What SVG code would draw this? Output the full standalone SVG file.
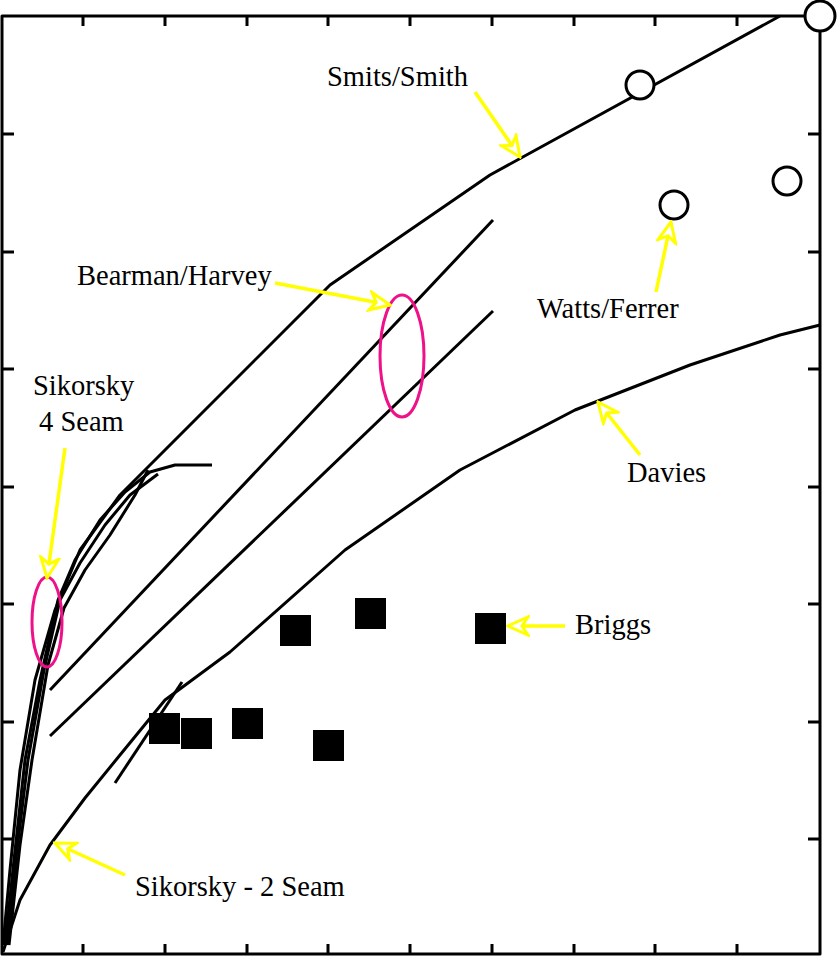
<svg xmlns="http://www.w3.org/2000/svg" width="837" height="956" viewBox="0 0 837 956">
<style>
.k{fill:none;stroke:#000;stroke-width:3;stroke-linejoin:round}
.t{font-family:"Liberation Serif",serif;font-size:28.5px;fill:#000}
.y{stroke:#ffff00;stroke-width:3.5;fill:none}
.e{fill:none;stroke:#ee1188;stroke-width:3}
.s{fill:#000}
.c{fill:#fff;stroke:#000;stroke-width:3}
</style>
<defs>
<marker id="ah" viewBox="-22 -11 24 22" refX="0" refY="0" markerWidth="24" markerHeight="22" markerUnits="userSpaceOnUse" orient="auto">
<path d="M0,0 L-20,-9 L-14,0 L-20,9 Z" fill="#fff" stroke="#ffff00" stroke-width="3"/>
</marker>
</defs>
<rect width="837" height="956" fill="#fff"/>
<g id="frame">
<path class="k" d="M2,16 H820 V954 H2 Z"/>
<path class="k" d="M83,954v-10M165,954v-10M247,954v-10M328,954v-10M410,954v-10M492,954v-10M574,954v-10M655,954v-10M737,954v-10
M83,16v10M165,16v10M247,16v10M328,16v10M410,16v10M492,16v10M574,16v10M655,16v10M737,16v10
M2,134h12M2,252h12M2,369h12M2,487h12M2,604h12M2,722h12M2,839h12
M820,134h-12M820,252h-12M820,369h-12M820,487h-12M820,604h-12M820,722h-12M820,839h-12"/>
</g>
<g id="connectors">
<path class="k" d="M3,945 L10,870 L20,770 L35,680 L55,610 L80,550 L120,495 L165,450 L330,285 L490,175 L780,16"/>
<path class="k" d="M5,945 L14,860 L25,760 L40,680 L58,600 L75,560 L100,520 L125,492 L150,472 L175,465 L212,465"/>
<path class="k" d="M7,945 L17,850 L28,760 L44,670 L60,600 L80,563 L105,525 L130,495 L158,474"/>
<path class="k" d="M9,945 L20,845 L32,760 L48,665 L64,608 L85,570 L110,535 L135,495 L148,470"/>
<path class="k" d="M50,690 L493,220"/>
<path class="k" d="M50,736 L493,311"/>
<path class="k" d="M115,783 L182,682"/>
<path class="k" d="M3,952 L20,900 L50,845 L85,798 L120,755 L165,700 L230,652 L345,550 L460,470 L575,410 L690,365 L780,335 L820,325"/>
</g>
<g id="markers">
<rect class="s" x="149" y="713" width="31" height="31"/>
<rect class="s" x="181" y="718" width="31" height="31"/>
<rect class="s" x="232" y="708" width="31" height="31"/>
<rect class="s" x="280" y="615" width="31" height="31"/>
<rect class="s" x="355" y="598" width="31" height="31"/>
<rect class="s" x="313" y="730" width="31" height="31"/>
<rect class="s" x="475" y="613" width="31" height="31"/>
<circle class="c" cx="640" cy="85" r="14"/>
<circle class="c" cx="674" cy="205" r="14"/>
<circle class="c" cx="787" cy="181" r="14"/>
<circle class="c" cx="820" cy="16" r="15"/>
</g>
<g id="highlights">
<ellipse class="e" cx="47" cy="622" rx="15" ry="45"/>
<ellipse class="e" cx="402" cy="356" rx="22" ry="61"/>
</g>
<g id="labels">
<text class="t" x="327" y="86">Smits/Smith</text>
<path class="y" d="M475,92 L520,157" marker-end="url(#ah)"/>
<text class="t" x="77" y="285">Bearman/Harvey</text>
<path class="y" d="M275,283 L390,305" marker-end="url(#ah)"/>
<text class="t" x="537" y="318">Watts/Ferrer</text>
<path class="y" d="M656,292 L671,222" marker-end="url(#ah)"/>
<text class="t" x="627" y="482">Davies</text>
<path class="y" d="M640,455 L598,402" marker-end="url(#ah)"/>
<text class="t" x="575" y="634">Briggs</text>
<path class="y" d="M565,626 L508,626" marker-end="url(#ah)"/>
<text class="t" x="33" y="395">Sikorsky</text>
<text class="t" x="39" y="431">4 Seam</text>
<path class="y" d="M65,448 L47,578" marker-end="url(#ah)"/>
<text class="t" x="135" y="896">Sikorsky - 2 Seam</text>
<path class="y" d="M125,875 L55,843" marker-end="url(#ah)"/>
</g>
</svg>
